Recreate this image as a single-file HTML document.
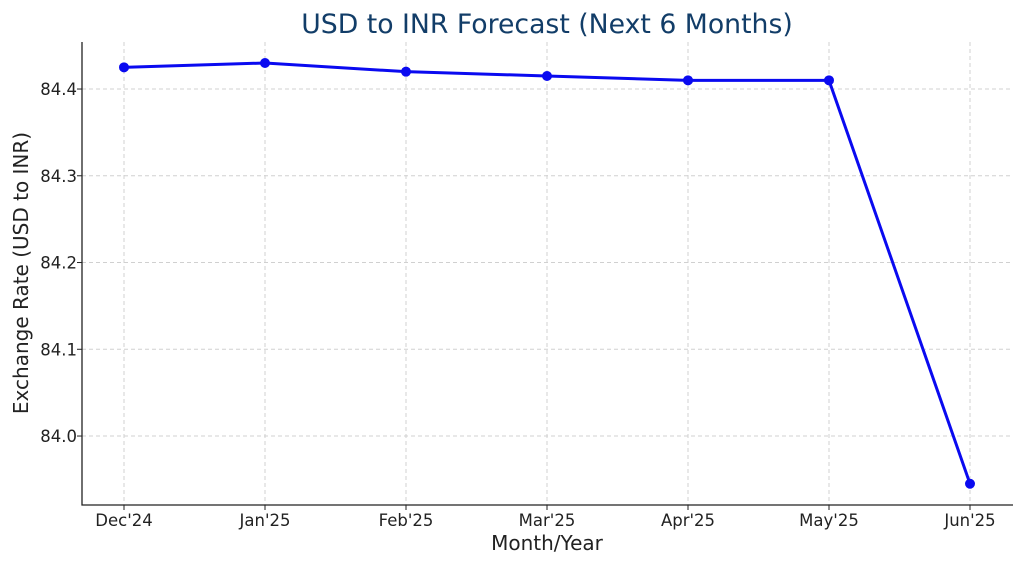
<!DOCTYPE html>
<html><head><meta charset="utf-8"><style>
body{margin:0;background:#fff;}
svg{display:block;font-family:"DejaVu Sans","Liberation Sans",sans-serif;}
</style></head><body>
<svg id="chart" width="1024" height="566">
<text x="547" y="33" text-anchor="middle" font-size="26.7" fill="#123d68">USD to INR Forecast (Next 6 Months)</text>
<g id="grid"></g>
<g id="axes"></g>
<g id="series"></g>
<text x="547" y="550" text-anchor="middle" font-size="20" fill="#222">Month/Year</text>
<text transform="translate(28,273) rotate(-90)" text-anchor="middle" font-size="20" fill="#222">Exchange Rate (USD to INR)</text>
</svg>
<script>
const categories=["Dec'24","Jan'25","Feb'25","Mar'25","Apr'25","May'25","Jun'25"];
const rates=[84.425,84.43,84.42,84.415,84.41,84.41,83.945];
const yTicks=[84.0,84.1,84.2,84.3,84.4];
const NS="http://www.w3.org/2000/svg";
const L=82,R=1013,T=42,B=505;
const yMin=83.9205,yMax=84.4542;
const x=i=>124+i*(970-124)/(categories.length-1);
const y=v=>B-(v-yMin)/(yMax-yMin)*(B-T);
function mk(tag,attrs,parent){const e=document.createElementNS(NS,tag);for(const k in attrs)e.setAttribute(k,attrs[k]);parent.appendChild(e);return e;}
const grid=document.getElementById('grid'),axes=document.getElementById('axes'),series=document.getElementById('series');
categories.forEach((c,i)=>{
 const g=mk('line',{x1:x(i),x2:x(i),y1:T,y2:B,stroke:'#d0d0d0','stroke-dasharray':'4,3','stroke-width':1},grid);
 
 
 const t=mk('line',{x1:x(i),x2:x(i),y1:B,y2:B+5,stroke:'#222'},axes);
 
 
 const l=mk('text',{x:x(i),y:B+21,'text-anchor':'middle','font-size':16.5,fill:'#222'},axes);
 l.textContent=c;
 
 
});
yTicks.forEach(v=>{
 const g=mk('line',{x1:L,x2:R,y1:y(v),y2:y(v),stroke:'#d0d0d0','stroke-dasharray':'4,3','stroke-width':1},grid);
 
 
 const t=mk('line',{x1:L-5,x2:L,y1:y(v),y2:y(v),stroke:'#222'},axes);
 
 
 const l=mk('text',{x:L-5,y:y(v)+6,'text-anchor':'end','font-size':16.5,fill:'#222'},axes);
 l.textContent=v.toFixed(1);
 
 
});
const sp=mk('path',{d:`M${L},${T}V${B}H${R}`,fill:'none',stroke:'#222','stroke-width':1.3},axes);


const line=mk('polyline',{points:rates.map((v,i)=>x(i)+','+y(v)).join(' '),fill:'none',stroke:'#0a0af0','stroke-width':3,'stroke-linejoin':'round'},series);


rates.forEach((v,i)=>{
 const p=mk('circle',{cx:x(i),cy:y(v),r:5,fill:'#0a0af0'},series);
 
 
});
</script>
</body></html>
